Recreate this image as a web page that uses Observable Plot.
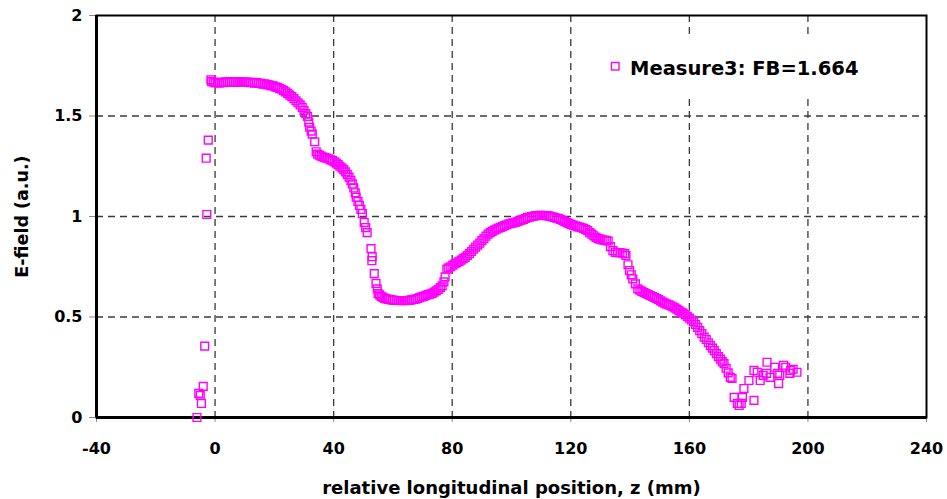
<!DOCTYPE html>
<html>
<head>
<meta charset="utf-8">
<script src="https://cdn.jsdelivr.net/npm/d3@7"></script>
<script src="https://cdn.jsdelivr.net/npm/@observablehq/plot@0.6"></script>
<style>
  html, body { margin: 0; padding: 0; background: #fff; }
  #chart { position: relative; width: 947px; height: 499px; font-family: "DejaVu Sans", Arial, sans-serif; }
  #legend { position: absolute; left: 598px; top: 38px; width: 322px; height: 56px; background: #fff; }
</style>
</head>
<body>
<div id="chart">
  <div id="legend"></div>
</div>
<script>
// Axis ticks
const xTicks = [-40, 0, 40, 80, 120, 160, 200, 240];
const yTicks = [0, 0.5, 1, 1.5, 2];

// Series label and axis titles
const seriesName = "Measure3: FB=1.664";
const xTitle = "relative longitudinal position, z (mm)";
const yTitle = "E-field (a.u.)";

// Measured field profile: longitudinal position z (mm)
const zPos = [
  -6.1, -5.5, -5.0, -4.6, -4.0, -3.5, -2.8, -3.0, -2.3, -1.4,
  -1.2, -0.6, 0.0, 0.7, 1.4, 2.1, 2.8, 3.5, 4.2, 4.9, 5.6, 6.3, 7.0, 7.7, 8.4, 9.1, 9.8,
  10.5, 11.2, 11.9, 12.6, 13.3, 14.0, 14.7, 15.4, 16.1, 16.8, 17.5, 18.2, 18.9, 19.6,
  20.3, 21.0, 21.7, 22.4, 23.1, 23.8, 24.5, 25.2, 25.9, 26.6, 27.3, 28.0, 28.7, 29.4,
  30.0, 30.6, 31.2, 31.6, 31.9, 32.4, 32.8, 33.6, 34.1, 34.6, 35.2, 35.8, 36.4, 37.0,
  37.7, 38.4, 39.0, 39.6, 40.3, 40.9, 41.5, 42.1, 42.8, 43.4, 44.0, 44.6, 45.2, 45.8,
  46.3, 46.8, 47.3, 47.6, 48.2, 48.7, 49.2, 49.7, 50.3, 50.8, 51.3, 52.6, 52.9, 53.0,
  53.7, 54.3, 54.7, 55.0, 55.5, 56.0, 56.6, 57.2, 57.8, 58.5, 59.2, 59.9, 60.6, 61.3,
  62.0, 62.7, 63.4, 64.1, 64.8, 65.5, 66.2, 66.9, 67.6, 68.3, 69.0, 69.7, 70.4, 71.1,
  71.8, 72.5, 73.2, 73.9, 74.6, 75.3, 76.0, 76.6, 77.2, 77.6, 78.2, 78.8, 79.5, 80.2,
  80.9, 81.6, 82.3, 83.0, 83.7, 84.4, 85.1, 85.8, 86.5, 87.2, 87.9, 88.6, 89.3, 90.0,
  90.7, 91.4, 92.1, 92.8, 93.5, 94.2, 94.9, 95.6, 96.3, 97.0, 97.7, 98.4, 99.1, 99.8,
  100.5, 101.2, 101.9, 102.6, 103.3, 104.0, 104.7, 105.4, 106.1, 106.8, 107.5, 108.2,
  108.9, 109.6, 110.3, 111.0, 111.7, 112.4, 113.1, 113.8, 114.5, 115.2, 115.9, 116.6,
  117.3, 118.0, 118.7, 119.4, 120.1, 120.8, 121.5, 122.2, 122.9, 123.6, 124.3, 125.0,
  125.7, 126.4, 127.1, 127.8, 128.5, 129.2, 129.9, 130.6, 131.3, 132.0, 132.6, 133.4,
  134.2, 135.0, 135.8, 136.6, 137.4, 138.2, 138.6, 139.3, 139.8, 140.4, 140.9, 141.8,
  142.6, 143.3, 144.0, 144.7, 145.4, 146.1, 146.8, 147.5, 148.2, 148.9, 149.6, 150.3,
  151.0, 151.7, 152.4, 153.1, 153.7, 154.4, 155.1, 155.8, 156.5, 157.2, 157.9, 158.6,
  159.3, 160.0, 160.7, 161.4, 162.1, 162.8, 163.5, 164.2, 165.0, 165.7, 166.4, 167.1,
  167.8, 168.4, 169.1, 169.8, 170.5, 171.1, 171.7, 172.4, 173.1, 173.8, 174.4,
  175.1, 176.2, 176.8, 177.5, 177.9, 178.4, 180.1, 181.8, 181.8, 182.9, 183.9, 184.9,
  186.0, 186.2, 187.2, 188.8, 189.8, 190.1, 190.5, 191.8, 192.5, 193.9, 194.2, 195.0, 196.3
];

// Measured field amplitude (a.u.)
const field = [
  0.000, 0.120, 0.110, 0.070, 0.155, 0.355, 1.010, 1.290, 1.380, 1.680,
  1.672, 1.668, 1.665, 1.667, 1.664, 1.668, 1.666, 1.670, 1.667, 1.671, 1.668, 1.670, 1.667, 1.669, 1.671, 1.668, 1.670,
  1.667, 1.669, 1.666, 1.668, 1.664, 1.666, 1.662, 1.663, 1.659, 1.660, 1.656, 1.655, 1.651, 1.650,
  1.645, 1.642, 1.637, 1.633, 1.626, 1.620, 1.613, 1.604, 1.596, 1.586, 1.576, 1.566, 1.555, 1.543,
  1.528, 1.512, 1.498, 1.470, 1.444, 1.425, 1.410, 1.372, 1.322, 1.310, 1.305, 1.300, 1.296, 1.293,
  1.290, 1.287, 1.282, 1.278, 1.272, 1.266, 1.258, 1.250, 1.242, 1.233, 1.222, 1.210, 1.196, 1.180,
  1.162, 1.142, 1.118, 1.096, 1.075, 1.055, 1.035, 1.015, 0.970, 0.945, 0.920, 0.840, 0.780, 0.800,
  0.716, 0.667, 0.640, 0.617, 0.610, 0.603, 0.598, 0.593, 0.590, 0.588, 0.586, 0.584, 0.583, 0.582,
  0.582, 0.581, 0.582, 0.581, 0.582, 0.583, 0.585, 0.587, 0.589, 0.592, 0.596, 0.600, 0.603, 0.607,
  0.611, 0.614, 0.618, 0.624, 0.630, 0.637, 0.646, 0.655, 0.675, 0.700, 0.738, 0.745, 0.750, 0.758,
  0.765, 0.770, 0.776, 0.783, 0.790, 0.797, 0.806, 0.815, 0.826, 0.837, 0.848, 0.858, 0.868, 0.880,
  0.890, 0.902, 0.912, 0.920, 0.926, 0.932, 0.937, 0.942, 0.946, 0.950, 0.955, 0.959, 0.963, 0.966,
  0.968, 0.971, 0.974, 0.978, 0.982, 0.986, 0.990, 0.994, 0.997, 1.000, 1.002, 1.004,
  1.005, 1.006, 1.006, 1.005, 1.004, 1.003, 1.001, 0.998, 0.995, 0.992, 0.989, 0.985,
  0.980, 0.975, 0.970, 0.966, 0.961, 0.957, 0.953, 0.950, 0.947, 0.944, 0.941, 0.936,
  0.930, 0.920, 0.912, 0.904, 0.896, 0.890, 0.887, 0.884, 0.882, 0.880, 0.878, 0.850,
  0.830, 0.822, 0.820, 0.820, 0.818, 0.815, 0.806, 0.760, 0.731, 0.710, 0.690, 0.665,
  0.640, 0.633, 0.627, 0.622, 0.617, 0.612, 0.607, 0.602, 0.598, 0.592, 0.586, 0.580,
  0.574, 0.569, 0.564, 0.560, 0.556, 0.551, 0.545, 0.539, 0.532, 0.525, 0.519, 0.512,
  0.503, 0.494, 0.485, 0.476, 0.463, 0.448, 0.432, 0.417, 0.400, 0.388, 0.372, 0.358,
  0.345, 0.333, 0.318, 0.303, 0.290, 0.278, 0.268, 0.245, 0.222, 0.200, 0.194,
  0.100, 0.070, 0.060, 0.070, 0.100, 0.144, 0.184, 0.085, 0.234, 0.225, 0.184, 0.210,
  0.220, 0.275, 0.200, 0.250, 0.220, 0.169, 0.210, 0.260, 0.250, 0.220, 0.234, 0.240, 0.225
];

const points = zPos.map((z, i) => ({z, e: field[i]}));
const magenta = "#ff00ff";
const font = "'DejaVu Sans', Arial, sans-serif";

const chart = Plot.plot({
  width: 947,
  height: 499,
  marginLeft: 96,
  marginRight: 21,
  marginTop: 15,
  marginBottom: 82,
  style: {fontFamily: font, fontWeight: "bold", fontSize: "16px", color: "black", background: "white"},
  x: {domain: [-40, 240]},
  y: {domain: [0, 2]},
  marks: [
    Plot.gridX(xTicks.slice(1, -1), {stroke: "#3a3a3a", strokeOpacity: 1, strokeWidth: 1.3, strokeDasharray: "7,5"}),
    Plot.gridY(yTicks.slice(1, -1), {stroke: "#3a3a3a", strokeOpacity: 1, strokeWidth: 1.3, strokeDasharray: "7,5"}),
    Plot.axisX(xTicks, {tickSize: 5, tickPadding: 20, tickFormat: d => String(d), stroke: "#888", fill: "black", label: null, fontSize: 16}),
    Plot.axisY(yTicks, {tickSize: 7, tickPadding: 7, tickFormat: d => String(d), stroke: "#888", fill: "black", label: null, fontSize: 16}),
    Plot.frame({stroke: "black", strokeWidth: 2}),
    Plot.ruleY([0], {stroke: "black", strokeWidth: 3}),
    Plot.ruleX([-40], {stroke: "black", strokeWidth: 3}),
    Plot.dot(points, {x: "z", y: "e", symbol: "square", r: 4.4, stroke: magenta, strokeWidth: 1.4, fill: "none"}),
    Plot.text([xTitle], {frameAnchor: "bottom", dy: 71, textAnchor: "middle", lineAnchor: "middle", fontSize: 18, fontWeight: "bold", fill: "black"}),
    Plot.text([yTitle], {frameAnchor: "left", dx: -74, rotate: -90, textAnchor: "middle", lineAnchor: "middle", fontSize: 17.5, fontWeight: "bold", fill: "black"})
  ]
});

const holder = document.getElementById("chart");
holder.insertBefore(chart, holder.firstChild);

// Legend: white box over the grid with one series entry
const legend = d3.select("#legend").append("svg").attr("width", 322).attr("height", 56);
legend.append("rect")
  .attr("x", 13.5).attr("y", 24.5).attr("width", 7.5).attr("height", 7.5)
  .attr("fill", "none").attr("stroke", magenta).attr("stroke-width", 1.4);
legend.append("text")
  .attr("x", 32).attr("y", 37)
  .attr("font-family", font).attr("font-weight", "bold").attr("font-size", 19.5)
  .attr("fill", "black")
  .text(seriesName);
</script>
</body>
</html>
